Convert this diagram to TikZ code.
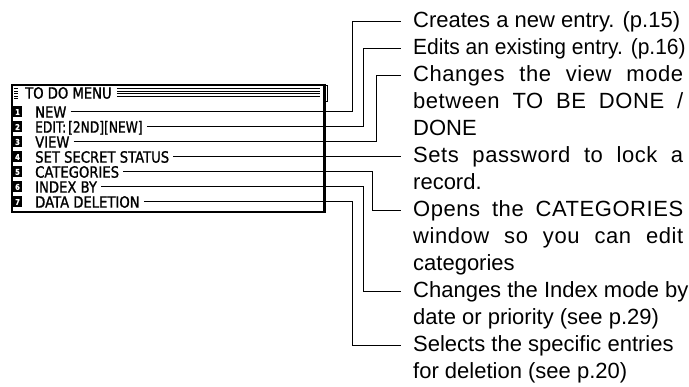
\documentclass[tikz,border=0pt]{standalone}
\usepackage{fontspec}
\usepackage{graphicx}
\setmainfont{Liberation Sans}
\newfontfamily\trackfont[LetterSpace=2.5]{Liberation Sans}
\newfontfamily\lcdfont[FakeStretch=0.85,FakeBold=1.2]{DejaVu Sans}
\begin{document}
\begin{tikzpicture}[x=1pt,y=-1pt,
  menuitem/.style={font=\lcdfont\fontsize{15.5}{15.5}\selectfont, anchor=west, inner sep=0pt, text height=11.3pt, text depth=0pt},
  numbox/.style={fill=black, text=white, minimum width=9pt, minimum height=11pt, inner sep=0pt, font=\lcdfont\bfseries\fontsize{8}{8}\selectfont},
  lab/.style={font=\fontsize{22}{27}\selectfont, anchor=west, inner sep=0pt, text height=15.5pt, text depth=4.5pt},
  lead/.style={line width=1pt, shorten <=4pt, shorten >=12pt},
  stripe/.style={line width=1.1pt}
]
\useasboundingbox (0,0) rectangle (689,387);

% screen frame
\draw[line width=2.5pt] (11,85) -- (325.5,85);
\draw[line width=1.6pt] (12,85) -- (12,212);
\draw[line width=2.5pt] (11,212) -- (325.5,212);
\draw[line width=3pt] (324,84) -- (324,213.2);
\draw[line width=0.8pt] (324,85) -- (327.5,85) -- (327.5,101) -- (325.5,101);

% title row
\foreach \yy in {88.5,91,93.5,96,98.5} \draw[line width=0.9pt] (14,\yy) -- (17.5,\yy);
\node[menuitem] (title) at (25,93) {TO DO MENU};
\coordinate (sx) at (320,0);
\foreach \yy in {88.5,91.2,93.9,96.6} \draw[stripe] ([xshift=5pt]title.east |- 0,\yy) -- (sx |- 0,\yy);

% menu items
\node[numbox] (n1) at (17.5,112) {1};
\node[numbox] (n2) at (17.5,127) {2};
\node[numbox] (n3) at (17.5,142) {3};
\node[numbox] (n4) at (17.5,157) {4};
\node[numbox] (n5) at (17.5,172) {5};
\node[numbox] (n6) at (17.5,187) {6};
\node[numbox] (n7) at (17.5,202) {7};
\node[menuitem] (m1) at (35,112) {NEW};
\node[menuitem] (m2) at (35,127) {\scalebox{0.93}[1]{EDIT:\kern2pt[2ND][NEW]}};
\node[menuitem] (m3) at (35,142) {VIEW};
\node[menuitem] (m4) at (35,157) {SET SECRET STATUS};
\node[menuitem] (m5) at (35,172) {CATEGORIES};
\node[menuitem] (m6) at (35,187) {INDEX BY};
\node[menuitem] (m7) at (35,202) {DATA DELETION};

% labels
\node[lab] (l1) at (413,22) {Creates a new entry. (p.15)};
\node[lab] (l2) at (413,49) {\scalebox{0.955}[1]{Edits an existing entry. (p.16)}};
\node[lab] (l3) at (413,76) {\trackfont\makebox[270pt][s]{Changes the view mode}};
\node[lab] (l3b) at (413,103) {\trackfont\makebox[270pt][s]{between TO BE DONE /}};
\node[lab] (l3c) at (413,130) {DONE};
\node[lab] (l4) at (413,157) {\trackfont\makebox[270pt][s]{Sets password to lock a}};
\node[lab] (l4b) at (413,184) {record.};
\node[lab] (l5) at (413,211) {\trackfont\makebox[270pt][s]{Opens the CATEGORIES}};
\node[lab] (l5b) at (413,238) {\trackfont\makebox[270pt][s]{window so you can edit}};
\node[lab] (l5c) at (413,265) {categories};
\node[lab] (l6) at (413,292) {Changes the Index mode by};
\node[lab] (l6b) at (413,319) {date or priority (see p.29)};
\node[lab] (l7) at (413,346) {Selects the specific entries};
\node[lab] (l7b) at (413,373) {for deletion (see p.20)};

% bend columns
\coordinate (c1) at (352,0);
\coordinate (c2) at (363,0);
\coordinate (c3) at (376,0);
\coordinate (c5) at (372,0);
\coordinate (c6) at (363,0);
\coordinate (c7) at (352,0);

% leaders
\draw[lead] (m1.east) -- (m1.east -| c1) |- (l1.west);
\draw[lead] (m2.east) -- (m2.east -| c2) |- (l2.west);
\draw[lead] (m3.east) -- (m3.east -| c3) |- (l3.west);
\draw[lead] (m4.east) -- (l4.west);
\draw[lead] (m5.east) -- (m5.east -| c5) |- (l5.west);
\draw[lead] (m6.east) -- (m6.east -| c6) |- (l6.west);
\draw[lead] (m7.east) -- (m7.east -| c7) |- (l7.west);
\end{tikzpicture}
\end{document}
